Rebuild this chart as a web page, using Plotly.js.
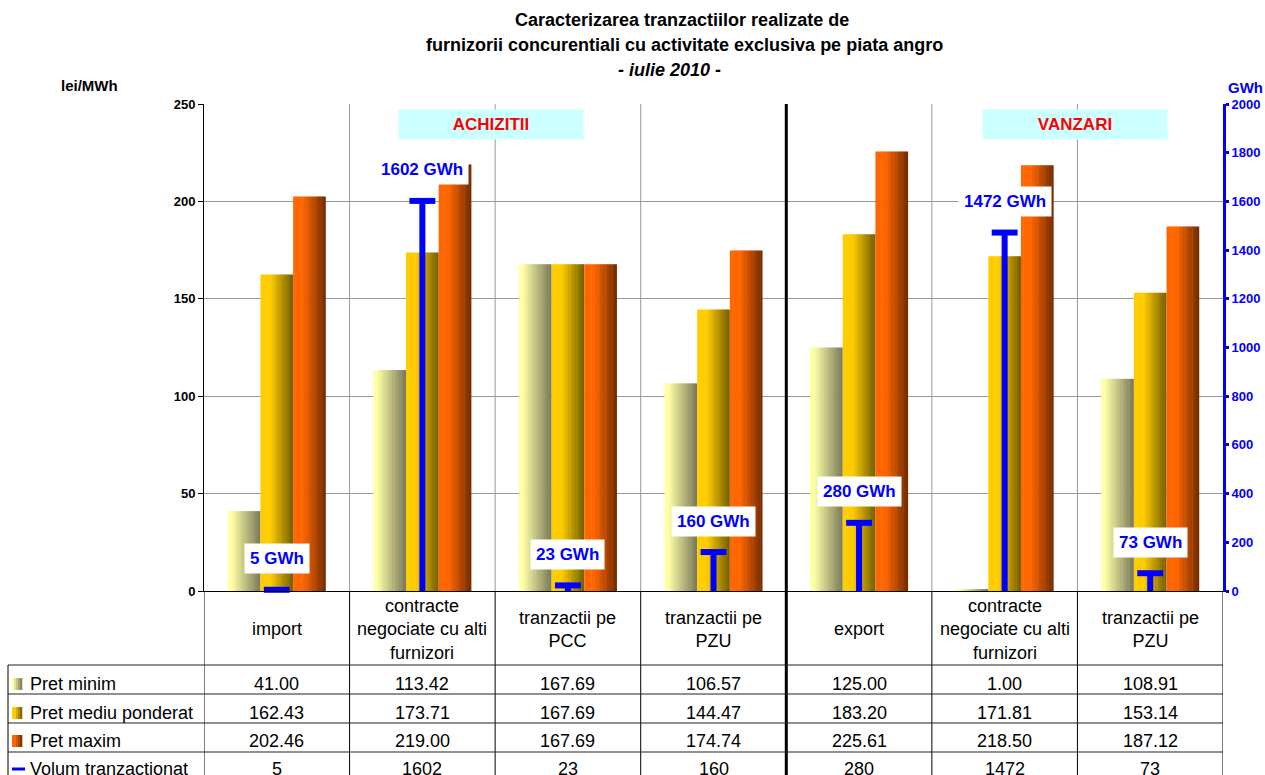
<!DOCTYPE html>
<html>
<head>
<meta charset="utf-8">
<script src="https://cdn.plot.ly/plotly-3.0.1.min.js"></script>
<style>html,body{margin:0;padding:0;background:#fff;}#chart{width:1265px;height:775px;}</style>
</head>
<body>
<div id="chart"></div>
<script>
// ---- data ----
const categories = ['import', 'contracte<br>negociate cu alti<br>furnizori', 'tranzactii pe<br>PCC', 'tranzactii pe<br>PZU', 'export', 'contracte<br>negociate cu alti<br>furnizori', 'tranzactii pe<br>PZU'];
const groups = ['ACHIZITII', 'VANZARI'];
const seriesNames = ['Pret minim', 'Pret mediu ponderat', 'Pret maxim', 'Volum tranzactionat'];
const pretMinim = [41.00, 113.42, 167.69, 106.57, 125.00, 1.00, 108.91];
const pretMediu = [162.43, 173.71, 167.69, 144.47, 183.20, 171.81, 153.14];
const pretMaxim = [202.46, 219.00, 167.69, 174.74, 225.61, 218.50, 187.12];
const volum = [5, 1602, 23, 160, 280, 1472, 73];

// ---- helpers (layout only) ----
const FONT = 'Liberation Sans, Arial, sans-serif';
const L = 204, T = 104, PW = 1019, PH = 487;
const px = p => (p - L) / PW;
const py = p => (T + PH - p) / PH;
const mix = (a, b, t) => 'rgb(' + a.map((v, i) => Math.round(v + (b[i] - v) * t)).join(',') + ')';

const xIdx = categories.map((_, i) => i);
const styles = [
  {c0: [255, 255, 165], c1: [118, 118, 88], start: 0.12},
  {c0: [255, 204, 0], c1: [112, 92, 0], start: 0.3},
  {c0: [255, 102, 0], c1: [112, 42, 0], start: 0.3}
];
const priceSeries = [pretMinim, pretMediu, pretMaxim];

const traces = [];
const N = 14, bw = 0.2245;
priceSeries.forEach((vals, si) => {
  const st = styles[si];
  for (let k = 0; k < N; k++) {
    const t = (k + 0.5) / N;
    const tt = Math.max(0, (t - st.start) / (1 - st.start));
    const w = (k === N - 1) ? bw / N : bw / N * 1.2;
    traces.push({
      type: 'bar', x: xIdx, y: vals, name: seriesNames[si],
      width: w, offset: -1.5 * bw + si * bw + k * bw / N,
      marker: {color: mix(st.c0, st.c1, tt), line: {width: 0}},
      showlegend: false,
      hoverinfo: k === 0 ? 'y+name' : 'skip'
    });
  }
});

traces.push({
  type: 'scatter', x: xIdx, y: volum, yaxis: 'y2', name: seriesNames[3],
  mode: 'markers', cliponaxis: false, showlegend: false,
  marker: {symbol: 'line-ew', size: 18.5, color: '#0000ff', line: {width: 6, color: '#0000ff'}},
  error_y: {type: 'data', symmetric: false, array: volum.map(() => 0), arrayminus: volum,
            width: 0, thickness: 6, color: '#0000ff'}
});

// ---- shapes ----
const shapes = [];
for (let i = 0; i < categories.length - 1; i++) {
  if (i === 3) continue;
  shapes.push({type: 'line', xref: 'x', yref: 'paper', x0: i + 0.5, x1: i + 0.5, y0: 0, y1: 1,
    line: {color: '#999', width: 1}, layer: 'below'});
}
const tBottom = py(790);
for (let i = 0; i < categories.length - 1; i++) {
  if (i === 3) continue;
  shapes.push({type: 'line', xref: 'x', yref: 'paper', x0: i + 0.5, x1: i + 0.5, y0: 0, y1: tBottom,
    line: {color: '#000', width: 1}});
}
shapes.push({type: 'line', xref: 'x', yref: 'paper', x0: -0.5, x1: -0.5, y0: 0, y1: tBottom, line: {color: '#000', width: 1}});
shapes.push({type: 'line', xref: 'x', yref: 'paper', x0: 6.5, x1: 6.5, y0: 0, y1: tBottom, line: {color: '#000', width: 1}});
shapes.push({type: 'line', xref: 'x', yref: 'paper', x0: 3.5, x1: 3.5, y0: 1, y1: tBottom, line: {color: '#000', width: 3}});
[665, 694, 723, 752].forEach(p => {
  shapes.push({type: 'line', xref: 'paper', yref: 'paper', x0: px(8), x1: 1, y0: py(p), y1: py(p),
    line: {color: '#222', width: 1}});
});
shapes.push({type: 'line', xref: 'paper', yref: 'paper', x0: px(8), x1: px(8), y0: py(665), y1: tBottom,
  line: {color: '#000', width: 1}});

const rowCenters = [684, 713, 741, 769];
styles.forEach((st, si) => {
  const M = 5;
  for (let k = 0; k < M; k++) {
    const t = (k + 0.5) / M;
    const tt = Math.max(0, (t - st.start) / (1 - st.start));
    shapes.push({type: 'rect', xref: 'paper', yref: 'paper',
      x0: px(12 + k * 2), x1: px(12 + (k + 1) * 2 + 0.3),
      y0: py(rowCenters[si] + 6), y1: py(rowCenters[si] - 6),
      fillcolor: mix(st.c0, st.c1, tt), line: {width: 0}});
  }
});
shapes.push({type: 'line', xref: 'paper', yref: 'paper', x0: px(12), x1: px(25),
  y0: py(rowCenters[3]), y1: py(rowCenters[3]), line: {color: '#0000ff', width: 3}});

// ---- annotations ----
const ann = [];
const A = o => Object.assign({showarrow: false, xanchor: 'center', yanchor: 'middle'}, o);
const titleFont = {family: FONT, size: 18, color: '#000', weight: 'bold'};
ann.push(A({xref: 'paper', yref: 'paper', x: px(682), y: py(20), text: 'Caracterizarea tranzactiilor realizate de', font: titleFont}));
ann.push(A({xref: 'paper', yref: 'paper', x: px(684), y: py(45), text: 'furnizorii concurentiali cu activitate exclusiva pe piata angro', font: titleFont}));
ann.push(A({xref: 'paper', yref: 'paper', x: px(669), y: py(70), text: '<i>- iulie 2010 -</i>', font: titleFont}));
ann.push(A({xref: 'paper', yref: 'paper', x: px(89), y: py(85), text: 'lei/MWh',
  font: {family: FONT, size: 15, color: '#000', weight: 'bold'}}));
ann.push(A({xref: 'paper', yref: 'paper', x: px(1245), y: py(88), text: 'GWh',
  font: {family: FONT, size: 15, color: '#0000ff', weight: 'bold'}}));
[[491, groups[0]], [1075, groups[1]]].forEach(([cx, txt]) => {
  ann.push(A({xref: 'paper', yref: 'paper', x: px(cx), y: py(124.5), text: txt,
    width: 182, height: 27, bgcolor: '#ccffff',
    font: {family: FONT, size: 17, color: '#ff0000', weight: 'bold'}}));
});
volum.forEach((v, i) => {
  ann.push(A({xref: 'x', yref: 'y2', x: i, y: v, yshift: 31, text: v + ' GWh',
    bgcolor: '#ffffff', borderpad: 5,
    font: {family: FONT, size: 17, color: '#0000ff', weight: 'bold'}}));
});
categories.forEach((c, i) => {
  ann.push(A({xref: 'x', yref: 'paper', x: i, y: py(629), text: c,
    font: {family: FONT, size: 18, color: '#000'}}));
});
const tableRows = [
  pretMinim.map(v => v.toFixed(2)),
  pretMediu.map(v => v.toFixed(2)),
  pretMaxim.map(v => v.toFixed(2)),
  volum.map(v => String(v))
];
tableRows.forEach((row, r) => {
  ann.push(A({xref: 'paper', yref: 'paper', x: px(28), y: py(rowCenters[r]), xanchor: 'left',
    text: seriesNames[r], font: {family: FONT, size: 18, color: '#000'}}));
  row.forEach((txt, i) => {
    ann.push(A({xref: 'x', yref: 'paper', x: i, y: py(rowCenters[r]), text: txt,
      font: {family: FONT, size: 18, color: '#000'}}));
  });
});

const layout = {
  width: 1265, height: 775,
  margin: {l: L, r: 1265 - L - PW, t: T, b: 775 - T - PH, pad: 0},
  paper_bgcolor: '#fff', plot_bgcolor: '#fff',
  barmode: 'overlay', showlegend: false,
  font: {family: FONT},
  xaxis: {range: [-0.5, 6.5], showticklabels: false, showgrid: false, zeroline: false,
          showline: true, linecolor: '#000', linewidth: 1, ticks: '', fixedrange: true},
  yaxis: {range: [0, 250], dtick: 50, showgrid: true, gridcolor: '#999', gridwidth: 1,
          zeroline: false, showline: true, linecolor: '#000', linewidth: 1,
          ticks: 'outside', ticklen: 5, tickcolor: '#000',
          tickfont: {family: FONT, size: 13, color: '#000', weight: 'bold'}},
  yaxis2: {range: [0, 2000], dtick: 200, overlaying: 'y', side: 'right', showgrid: false,
           zeroline: false, showline: true, linecolor: '#0000ff', linewidth: 3,
           ticks: 'outside', ticklen: 3, tickwidth: 3, tickcolor: '#0000ff',
           tickfont: {family: FONT, size: 13, color: '#0000ff', weight: 'bold'}},
  shapes: shapes,
  annotations: ann
};

Plotly.newPlot('chart', traces, layout, {displayModeBar: false, staticPlot: true});
</script>
</body>
</html>
